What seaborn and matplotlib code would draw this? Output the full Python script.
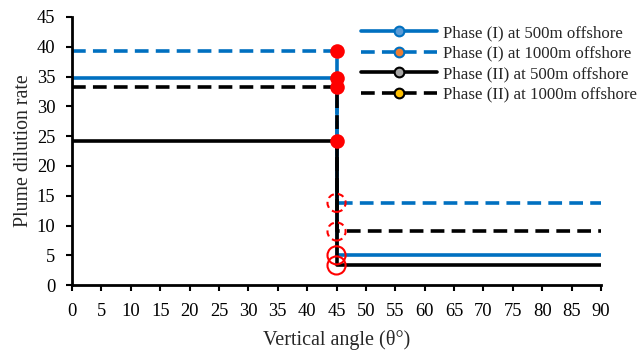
import matplotlib
matplotlib.use("Agg")
import matplotlib.pyplot as plt
from matplotlib.lines import Line2D
import seaborn as sns
import pandas as pd
import numpy as np

# Data
angles = [0, 45, 45, 90]
series_names = ["Phase (I) at 500m offshore", "Phase (I) at 1000m offshore",
                "Phase (II) at 500m offshore", "Phase (II) at 1000m offshore"]
high_vals = [34.7, 39.2, 24.1, 33.3]   # dilution for angle < 45
low_vals = [5.0, 13.8, 3.3, 9.0]       # dilution for angle > 45
line_colors = ["#0070C0", "#0070C0", "#000000", "#000000"]
line_styles = ["-", "--", "-", "--"]
legend_fill = ["#5B9BD5", "#ED7D31", "#A5A5A5", "#FFC000"]
x_ticks = list(range(0, 91, 5))
y_ticks = list(range(0, 46, 5))

sns.set_theme(style="white")
plt.rcParams['font.family'] = ['Liberation Serif', 'DejaVu Serif']

fig = plt.figure(figsize=(6.38, 3.52), dpi=100)
ax = fig.add_axes([0.113, 0.19, 0.829, 0.762])

for name, hv, lv, c, ls in zip(series_names, high_vals, low_vals, line_colors, line_styles):
    df = pd.DataFrame({"x": angles, "y": [hv, hv, lv, lv]})
    sns.lineplot(data=df, x="x", y="y", estimator=None, sort=False, ax=ax,
                 color=c, linestyle=ls, linewidth=2.6, zorder=2,
                 **({"dashes": False} if ls == "-" else {}))
    if ls == "--":
        ax.lines[-1].set_dashes([3.8, 2.0])

# Red markers at 45 degrees
df_hi = pd.DataFrame({"x": [45] * 4, "y": high_vals})
sns.scatterplot(data=df_hi, x="x", y="y", ax=ax, color="#FF0000", s=110,
                edgecolor="#FF0000", linewidth=0, zorder=5)
for lv, ls in zip(low_vals, line_styles):
    ax.scatter([45], [lv], s=170, facecolors="none", edgecolors="#FF0000",
               linewidths=1.5, linestyle=ls if ls == "-" else (0, (3, 2)), zorder=5)

ax.set_xlim(0, 90)
ax.set_ylim(0, 45)
ax.set_xticks(x_ticks)
ax.set_yticks(y_ticks)
ax.tick_params(axis="both", which="both", direction="out", length=4, width=1.5,
               labelsize=13.3, colors="black", bottom=True, left=True)
ax.tick_params(axis="x", pad=9)
ax.tick_params(axis="y", pad=8)
for s in ["top", "right"]:
    ax.spines[s].set_visible(False)
for s in ["left", "bottom"]:
    ax.spines[s].set_color("black")
    ax.spines[s].set_linewidth(2)
ax.set_xlabel("Vertical angle (θ°)", fontsize=14.5, labelpad=7)
ax.set_ylabel("Plume dilution rate", fontsize=14.3, labelpad=3)

handles = []
for name, c, ls, f in zip(series_names, line_colors, line_styles, legend_fill):
    h = Line2D([0], [0], color=c, linestyle=ls, linewidth=2.6, marker="o",
               markersize=7, markerfacecolor=f, markeredgecolor=c, markeredgewidth=1.5)
    if ls == "--":
        h.set_dashes([3.8, 2.0])
    handles.append(h)
leg = fig.legend(handles=handles, labels=series_names, loc="upper left",
                 bbox_to_anchor=(0.566, 0.929), frameon=False, fontsize=12.2,
                 handlelength=4.5, handletextpad=0.36, labelspacing=0.27,
                 borderaxespad=0, borderpad=0)

fig.savefig("out.png", dpi=100)
